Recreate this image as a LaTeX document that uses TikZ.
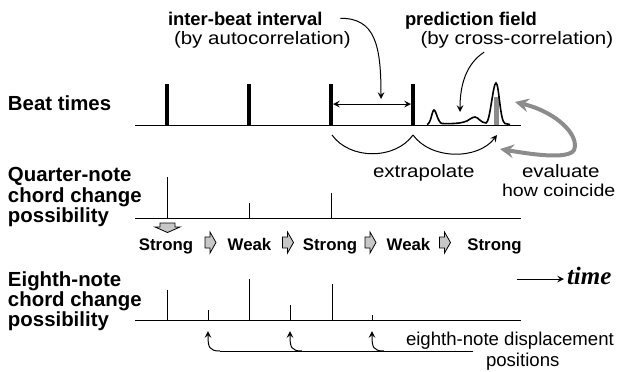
\documentclass[tikz,border=0pt]{standalone}
\usepackage{fontspec}
\setmainfont{Liberation Sans}
\newfontfamily\widefamily[FakeStretch=1.14]{Liberation Sans}
\newfontfamily\timefamily{Liberation Serif}
\newlength{\du}
\setlength{\du}{0.5pt}
\definecolor{evalgray}{rgb}{0.550000, 0.550000, 0.550000}
\definecolor{arrowfill}{rgb}{0.780000, 0.780000, 0.780000}
\tikzset{
  rowlabel/.style={anchor=base west,inner sep=0pt,outer sep=0pt,font=\fontsize{10.2}{12}\selectfont\bfseries},
  headlabel/.style={anchor=base west,inner sep=0pt,outer sep=0pt,font=\fontsize{9.2}{11}\selectfont\bfseries},
  notelabel/.style={anchor=base west,inner sep=0pt,outer sep=0pt,font=\fontsize{9}{11}\selectfont\widefamily},
  smalllabel/.style={anchor=base west,inner sep=0pt,outer sep=0pt,font=\fontsize{9.3}{11}\selectfont},
  accentlabel/.style={anchor=base,inner sep=0pt,outer sep=0pt,font=\fontsize{8.4}{10}\selectfont\bfseries},
  axisline/.style={line width=0.5pt},
  beattick/.style={line width=2pt},
  chordtick/.style={line width=0.5pt},
  note/.style={line width=0.5pt,-stealth},
  blockarrow/.style={draw=black,line width=0.4pt,fill=arrowfill,line join=miter},
  evalarrow/.style={line width=2pt,draw=evalgray,stealth-stealth},
}
\begin{document}
\begin{tikzpicture}
\pgftransformxscale{1.000000}
\pgftransformyscale{-1.000000}
\useasboundingbox (0\du,0\du) rectangle (621\du,371\du);
% row labels
\node[rowlabel] (beatlabel) at (8\du,110\du){Beat times};
\node[rowlabel] (quarterlabel) at (8\du,181.5\du){Quarter-note};
\node[rowlabel] (quarterlabelb) at (8\du,202.3\du){chord change};
\node[rowlabel] (quarterlabelc) at (8\du,222.3\du){possibility};
\node[rowlabel] (eighthlabel) at (8\du,286\du){Eighth-note};
\node[rowlabel] (eighthlabelb) at (8\du,306.5\du){chord change};
\node[rowlabel] (eighthlabelc) at (8\du,326.5\du){possibility};
% beat times
\draw[axisline] (135\du,125\du)--(521\du,125\du);
\coordinate (beat1) at (167\du,125\du);
\coordinate (beat2) at (249\du,125\du);
\coordinate (beat3) at (331\du,125\du);
\coordinate (beat4) at (413\du,125\du);
\draw[beattick] (beat1)--(167\du,84\du);
\draw[beattick] (beat2)--(249\du,84\du);
\draw[beattick] (beat3)--(331\du,84\du);
\draw[beattick] (beat4)--(413\du,84\du);
\coordinate (ibileft) at (333\du,104\du);
\coordinate (ibiright) at (411\du,104\du);
\draw[line width=0.5pt,stealth-stealth] (ibileft)--(ibiright);
% prediction field
\fill[evalgray] (493.5\du,97\du) rectangle (498.5\du,124.5\du);
\draw[line width=0.8pt] (427\du,124.5\du) .. controls (431\du,124\du) and (432\du,110\du) .. (434\du,110\du) .. controls (436\du,110\du) and (438\du,123\du) .. (442\du,123.5\du) .. controls (455\du,124\du) and (462\du,123\du) .. (467\du,121\du) .. controls (470\du,119\du) and (473\du,117\du) .. (475\du,117\du) .. controls (478\du,117\du) and (481\du,123\du) .. (486\du,123\du) .. controls (490\du,123\du) and (493\du,83\du) .. (496\du,83\du) .. controls (499\du,83\du) and (500\du,122\du) .. (505\du,123.5\du)--(510\du,124.5\du);
% annotations
\node[headlabel] (ibilabel) at (168\du,25\du){inter-beat interval};
\node[notelabel] (ibisub) at (174\du,44\du){(by autocorrelation)};
\node[headlabel] (pflabel) at (405\du,25\du){prediction field};
\node[notelabel] (pfsub) at (420.5\du,44\du){(by cross-correlation)};
\coordinate (ibitip) at (381\du,99\du);
\draw[note,shorten <=18\du] (ibilabel.east) .. controls (375\du,18\du) and (381\du,45\du) .. (ibitip);
\coordinate (pftip) at (460\du,112\du);
\draw[note,shorten <=8\du] ([xshift=-26\du]pfsub.south) .. controls (466\du,64\du) and (460\du,85\du) .. (pftip);
% extrapolate
\coordinate (ext1) at (332\du,135\du);
\coordinate (ext2) at (413\du,135\du);
\coordinate (ext3) at (497\du,135\du);
\draw[line width=0.5pt] (ext1) .. controls (350\du,160\du) and (395\du,160\du) .. (ext2);
\draw[note] (ext2) .. controls (431\du,160\du) and (478\du,160\du) .. (ext3);
\node[notelabel] (extlabel) at (373\du,177.5\du){extrapolate};
% evaluate
\coordinate (evtop) at (515\du,102\du);
\coordinate (evbot) at (500\du,149\du);
\draw[evalarrow] (evtop) .. controls (556\du,112\du) and (580\du,135\du) .. (574\du,150\du) .. controls (568\du,160\du) and (530\du,154\du) .. (evbot);
\node[notelabel] (evlabel) at (522\du,177.5\du){evaluate};
\node[notelabel,font=\fontsize{8.6}{11}\selectfont\widefamily] (evlabelb) at (502\du,196\du){how coincide};
% quarter-note row
\draw[axisline] (135\du,218\du)--(521\du,218\du);
\draw[chordtick] (167\du,218\du)--(167\du,177\du);
\draw[chordtick] (249\du,218\du)--(249\du,203\du);
\draw[chordtick] (331\du,218\du)--(331\du,193\du);
\draw[blockarrow] (160\du,223\du)--(175\du,223\du)--(175\du,227\du)--(180\du,227\du)--(167.5\du,232.5\du)--(155\du,227\du)--(160\du,227\du)--cycle;
\node[accentlabel] (acc1) at (166\du,250.5\du){Strong};
\node[accentlabel] (acc2) at (249.5\du,250.5\du){Weak};
\node[accentlabel] (acc3) at (330\du,250.5\du){Strong};
\node[accentlabel] (acc4) at (408.5\du,250.5\du){Weak};
\node[accentlabel] (acc5) at (494.5\du,250.5\du){Strong};
\draw[blockarrow] (205\du,237\du)--(210\du,237\du)--(210\du,232\du)--(216\du,242.5\du)--(210\du,253\du)--(210\du,248\du)--(205\du,248\du)--cycle;
\draw[blockarrow] (282.5\du,237\du)--(287.5\du,237\du)--(287.5\du,232\du)--(293.5\du,242.5\du)--(287.5\du,253\du)--(287.5\du,248\du)--(282.5\du,248\du)--cycle;
\draw[blockarrow] (365\du,237\du)--(370\du,237\du)--(370\du,232\du)--(376\du,242.5\du)--(370\du,253\du)--(370\du,248\du)--(365\du,248\du)--cycle;
\draw[blockarrow] (439.5\du,237\du)--(444.5\du,237\du)--(444.5\du,232\du)--(450.5\du,242.5\du)--(444.5\du,253\du)--(444.5\du,248\du)--(439.5\du,248\du)--cycle;
% time
\coordinate (timestart) at (517\du,279\du);
\coordinate (timeend) at (564\du,279\du);
\draw[note] (timestart)--(timeend);
\node[anchor=base west,inner sep=0pt,outer sep=0pt,font=\fontsize{12.5}{14}\selectfont\timefamily\bfseries\itshape] (timelabel) at (567\du,284\du){time};
% eighth-note row
\draw[axisline] (135\du,320\du)--(521\du,320\du);
\draw[chordtick] (167\du,320\du)--(167\du,290\du);
\draw[chordtick] (208\du,320\du)--(208\du,310\du);
\draw[chordtick] (249\du,320\du)--(249\du,279\du);
\draw[chordtick] (290\du,320\du)--(290\du,305\du);
\draw[chordtick] (332\du,320\du)--(332\du,284\du);
\draw[chordtick] (372\du,320\du)--(372\du,315\du);
% displacement
\coordinate (dispright) at (473\du,351\du);
\coordinate (displeft) at (220\du,351\du);
\coordinate (disp1) at (208\du,331\du);
\coordinate (disp2) at (290\du,331\du);
\coordinate (disp3) at (372\du,331\du);
\draw[line width=0.5pt] (dispright)--(displeft);
\draw[note] (displeft) .. controls (209\du,351\du) and (208\du,347\du) .. (disp1);
\draw[note] (302\du,351\du) .. controls (291\du,351\du) and (290\du,347\du) .. (disp2);
\draw[note] (384\du,351\du) .. controls (373\du,351\du) and (372\du,347\du) .. (disp3);
\node[smalllabel] (displabel) at (406\du,345\du){eighth-note displacement};
\node[smalllabel] (displabelb) at (486\du,366\du){positions};
\end{tikzpicture}
\end{document}
